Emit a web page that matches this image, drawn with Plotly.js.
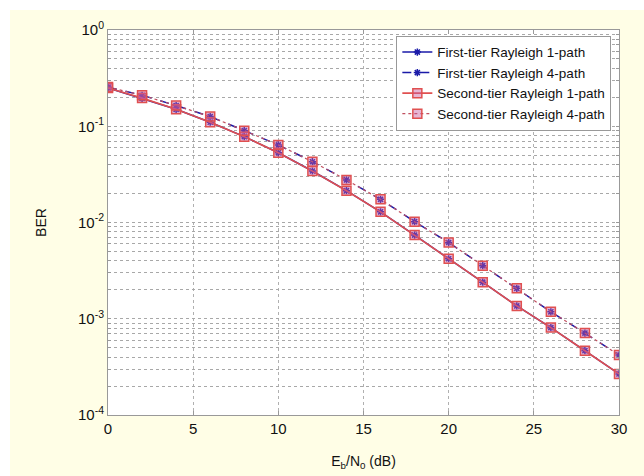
<!DOCTYPE html>
<html>
<head>
<meta charset="utf-8">
<script src="https://cdn.plot.ly/plotly-3.0.1.min.js"></script>
<style>
html,body{margin:0;padding:0;background:#ffffff;}
#chart{position:absolute;left:10px;top:10px;width:634px;height:466px;}
</style>
</head>
<body>
<div id="chart"></div>
<script>
const snr = [0, 2, 4, 6, 8, 10, 12, 14, 16, 18, 20, 22, 24, 26, 28, 30];
const firstTier1 = [0.25, 0.195, 0.150, 0.110, 0.078, 0.053, 0.0343, 0.0214, 0.0129, 0.0074, 0.0042, 0.0024, 0.00136, 0.00081, 0.000466, 0.000267];
const firstTier4 = [0.255, 0.21, 0.164, 0.126, 0.090, 0.064, 0.0428, 0.0277, 0.0174, 0.0102, 0.0062, 0.00356, 0.00207, 0.00118, 0.00071, 0.00042];
const secondTier1 = [0.25, 0.196, 0.150, 0.110, 0.078, 0.053, 0.0342, 0.0214, 0.0129, 0.0074, 0.0042, 0.0024, 0.00136, 0.00081, 0.000465, 0.000267];
const secondTier4 = [0.255, 0.21, 0.164, 0.126, 0.090, 0.064, 0.0428, 0.0277, 0.0174, 0.0102, 0.0062, 0.00356, 0.00207, 0.00118, 0.00071, 0.00042];
const seriesNames = ["First-tier Rayleigh 1-path", "First-tier Rayleigh 4-path", "Second-tier Rayleigh 1-path", "Second-tier Rayleigh 4-path"];
const xTicks = [0, 5, 10, 15, 20, 25, 30];
const decades = [-4, -3, -2, -1, 0];

const yTickVals = [], yTickText = [];
decades.forEach(d => {
  yTickVals.push(Math.pow(10, d));
  yTickText.push('10<sup>' + d + '</sup>');
  if (d < 0) {
    for (let m = 2; m <= 9; m++) {
      yTickVals.push(m * Math.pow(10, d));
      yTickText.push('');
    }
  }
});

const blue = '#1a1aa8';
const red = '#e05050';
const traces = [
  {x: snr, y: firstTier1, name: seriesNames[0], mode: 'lines+markers',
   line: {color: blue, width: 1.5}, marker: {symbol: 'asterisk-open', size: 6, color: blue, line: {color: blue, width: 1.5}}},
  {x: snr, y: firstTier4, name: seriesNames[1], mode: 'lines+markers',
   line: {color: blue, width: 1.5, dash: 'dash'}, marker: {symbol: 'asterisk-open', size: 6, color: blue, line: {color: blue, width: 1.5}}},
  {x: snr, y: secondTier1, name: seriesNames[2], mode: 'lines+markers',
   line: {color: red, width: 1.6}, marker: {symbol: 'square', size: 9, color: 'rgba(200,90,160,0.45)', line: {color: red, width: 1.5}}},
  {x: snr, y: secondTier4, name: seriesNames[3], mode: 'lines+markers',
   line: {color: '#c05060', width: 1.2, dash: 'dot'}, marker: {symbol: 'square', size: 9, color: 'rgba(200,90,160,0.45)', line: {color: red, width: 1.5}}}
];

const layout = {
  width: 634, height: 466,
  paper_bgcolor: '#fffee6',
  plot_bgcolor: '#ffffff',
  margin: {l: 98, r: 25, t: 20, b: 61},
  font: {family: 'Arial, Liberation Sans, sans-serif', size: 15, color: '#111'},
  showlegend: true,
  legend: {x: 0.985, y: 0.985, xanchor: 'right', yanchor: 'top',
    bgcolor: '#ffffff', bordercolor: '#999999', borderwidth: 1,
    font: {size: 13.5, color: '#111'}, tracegroupgap: 0, itemwidth: 30},
  xaxis: {
    range: [0, 30], tickvals: xTicks, ticktext: xTicks.map(String),
    showgrid: true, gridcolor: '#b0b0b0', griddash: 'dot', gridwidth: 1,
    showline: true, linecolor: '#999999', mirror: 'ticks',
    ticks: 'inside', ticklen: 4, tickcolor: '#999999',
    zeroline: false,
    tickfont: {size: 15},
    title: {text: 'E<sub>b</sub>/N<sub>0</sub> (dB)', font: {size: 14}, standoff: 20}
  },
  yaxis: {
    type: 'log', range: [-4, 0],
    tickvals: yTickVals, ticktext: yTickText,
    showgrid: true, gridcolor: '#a8a8a8', griddash: 'dot', gridwidth: 1,
    showline: true, linecolor: '#999999', mirror: 'ticks',
    ticks: 'inside', ticklen: 3, tickcolor: '#999999',
    zeroline: false,
    tickfont: {size: 15},
    title: {text: 'BER', font: {size: 14}, standoff: 28}
  }
};

Plotly.newPlot('chart', traces, layout, {displayModeBar: false, staticPlot: true});
</script>
</body>
</html>
